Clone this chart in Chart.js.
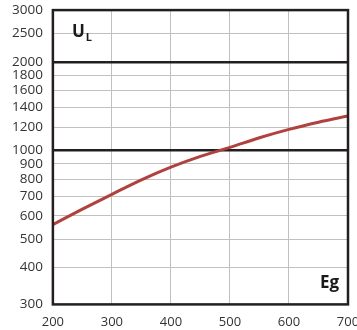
<!DOCTYPE html>
<html><head><meta charset="utf-8">
<script src="https://cdn.jsdelivr.net/npm/chart.js@4/dist/chart.umd.min.js"></script>
<style>
html,body{margin:0;padding:0;overflow:hidden;background:#fff;}
#wrap{position:relative;width:380px;height:330px;overflow:hidden;}
#c{position:absolute;left:0;top:-8px;}
</style></head><body>
<div id="wrap"><canvas id="c" width="380" height="348"></canvas></div>
<script>
const egValues = [200, 250, 300, 350, 400, 450, 500, 550, 600, 650, 700];
const ulValues = [560, 632, 710, 795, 878, 955, 1025, 1105, 1180, 1248, 1310];
const yTicks = [300, 400, 500, 600, 700, 800, 900, 1000, 1200, 1400, 1600, 1800, 2000, 2500, 3000];
const boldLines = [1000, 2000];
const xTicks = [200, 300, 400, 500, 600, 700];
const yLabel = 'U';
const ySub = 'L';
const xLabel = 'Eg';

const FONT = "'Open Sans', sans-serif";

const framePlugin = {
  id: 'frame',
  afterDraw(chart) {
    const {ctx, chartArea: a} = chart;
    ctx.save();
    ctx.strokeStyle = '#231f20';
    ctx.lineWidth = 2.5;
    ctx.strokeRect(a.left, a.top, a.right - a.left, a.bottom - a.top);
    ctx.fillStyle = '#1a1a1a';
    ctx.font = "bold 17px " + FONT;
    ctx.textBaseline = 'alphabetic';
    ctx.textAlign = 'left';
    ctx.fillText(yLabel, a.left + 19, a.top + 27);
    const w = ctx.measureText(yLabel).width;
    ctx.font = "bold 11px " + FONT;
    ctx.fillText(ySub, a.left + 20 + w, a.top + 31);
    ctx.font = "bold 17px " + FONT;
    ctx.textAlign = 'right';
    ctx.fillText(xLabel, a.right - 9, a.bottom - 16);
    ctx.restore();
  }
};

new Chart(document.getElementById('c'), {
  type: 'line',
  data: {
    datasets: [{
      data: egValues.map((x, i) => ({x: x, y: ulValues[i]})),
      borderColor: '#b0413e',
      borderWidth: 3,
      pointRadius: 0,
      cubicInterpolationMode: 'monotone',
      fill: false
    }]
  },
  options: {
    responsive: false,
    animation: false,
    devicePixelRatio: 1,
    layout: {padding: {top: 2, right: 32, left: 2, bottom: 0}},
    plugins: {legend: {display: false}, tooltip: {enabled: false}},
    scales: {
      x: {
        type: 'linear',
        min: 200, max: 700,
        afterBuildTicks(s) { s.ticks = xTicks.map(v => ({value: v})); },
        grid: {color: '#c0c0c0', lineWidth: 1, drawTicks: false},
        border: {display: false},
        ticks: {color: '#333', font: {family: FONT, size: 13}, padding: 10, maxRotation: 0}
      },
      y: {
        type: 'logarithmic',
        min: 300, max: 3000,
        afterBuildTicks(s) { s.ticks = yTicks.map(v => ({value: v})); },
        grid: {
          drawTicks: false,
          color: c => boldLines.includes(c.tick && c.tick.value) ? '#231f20' : '#c0c0c0',
          lineWidth: c => boldLines.includes(c.tick && c.tick.value) ? 2.5 : 1
        },
        border: {display: false},
        ticks: {color: '#333', font: {family: FONT, size: 13.5}, padding: 10, autoSkip: false,
          callback: v => String(v)}
      }
    }
  },
  plugins: [framePlugin]
});
</script>
</body></html>
